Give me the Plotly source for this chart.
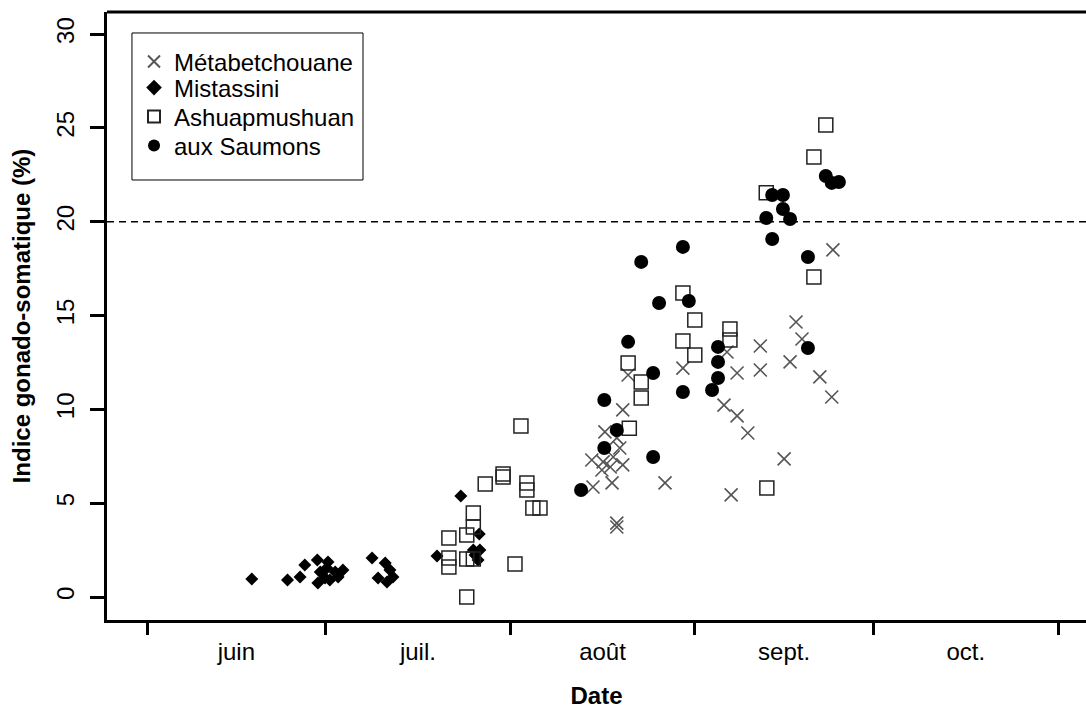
import plotly.graph_objects as go

# Day of year (1 juin = 152) and gonadosomatic index (%)
met_jour = [226.9, 228.4, 228.6, 226.7, 228.9, 229.8, 230.1, 230.3, 230.9, 231.4, 231.9, 231.9,
            230.9, 230.9, 232.8, 239.0, 242.0, 249.4, 251.1, 248.9, 251.1, 252.9, 250.1, 255.0,
            255.0, 259.0, 260.0, 261.0, 262.0, 265.0, 267.0, 267.2]
met_igs = [5.86, 6.77, 7.2, 7.3, 8.8, 6.93, 6.08, 7.46, 8.48, 7.94, 7.04, 9.97,
           3.94, 3.73, 11.83, 6.08, 12.2, 13.06, 11.94, 10.23, 9.65, 8.74, 5.44, 13.38,
           12.1, 7.36, 12.53, 14.66, 13.75, 11.73, 10.66, 18.5]

mis_jour = [169.6, 175.6, 177.7, 178.5, 180.6, 182.4, 181.1, 181.9, 183.6, 184.9, 180.7, 182.7,
            184.1, 182.2, 189.8, 192.0, 192.8, 193.3, 190.8, 192.3, 200.7, 204.7, 207.8, 206.8,
            207.9, 207.6, 207.1]
mis_igs = [0.96, 0.91, 1.07, 1.71, 1.97, 1.87, 1.33, 1.01, 1.33, 1.44, 0.75, 0.91,
           1.07, 1.55, 2.08, 1.81, 1.44, 1.07, 1.01, 0.80, 2.19, 5.38, 3.36, 2.51,
           2.51, 1.97, 2.24]

ash_jour = [202.7, 202.7, 202.7, 205.7, 205.7, 206.8, 206.8, 206.8, 205.7, 208.8, 211.8, 211.8,
            213.8, 214.8, 215.8, 215.8, 216.8, 218.0, 232.8, 233.0, 235.0, 235.0, 242.0, 242.0,
            244.0, 244.0, 249.9, 249.9, 256.1, 256.0, 264.0, 266.0, 264.0]
ash_igs = [3.14, 2.08, 1.60, 3.30, 2.03, 2.03, 3.73, 4.48, 0.0, 6.02, 6.56, 6.40,
           1.76, 9.12, 6.08, 5.70, 4.74, 4.74, 12.47, 9.0, 11.46, 10.6, 16.2, 13.65,
           14.77, 12.9, 14.29, 13.7, 5.81, 21.54, 23.45, 25.16, 17.06]

sau_jour = [224.9, 228.8, 228.8, 230.9, 232.8, 235.0, 237.0, 237.0, 238.0, 242.0, 242.0, 243.0,
            246.9, 247.9, 247.9, 247.9, 256.0, 257.0, 257.0, 258.8, 258.8, 260.0, 263.0, 263.0,
            266.0, 267.0, 268.2]
sau_igs = [5.70, 7.94, 10.5, 8.9, 13.6, 17.86, 11.94, 7.46, 15.67, 18.66, 10.93, 15.78,
           11.03, 13.33, 12.53, 11.67, 20.2, 21.43, 19.08, 21.43, 20.68, 20.15, 18.12, 13.27,
           22.44, 22.07, 22.12]

month_starts = [152, 182, 213, 244, 274, 305]
month_mid = [167, 197.5, 228.5, 259, 289.5]
month_labels = ["juin", "juil.", "août", "sept.", "oct."]
y_ticks = [0, 5, 10, 15, 20, 25, 30]
seuil = 20

FONT = "Liberation Sans, Arial, sans-serif"
FS = 24

fig = go.Figure()
fig.add_trace(go.Scatter(x=met_jour, y=met_igs, mode="markers", name="Métabetchouane",
                         legend="legend",
                         marker=dict(symbol="x-thin-open", size=13, color="#555555",
                                     line=dict(color="#555555", width=1.6))))
fig.add_trace(go.Scatter(x=mis_jour, y=mis_igs, mode="markers", name="Mistassini",
                         legend="legend2",
                         marker=dict(symbol="diamond", size=10, color="black",
                                     line=dict(width=0))))
fig.add_trace(go.Scatter(x=ash_jour, y=ash_igs, mode="markers", name="Ashuapmushuan",
                         legend="legend3",
                         marker=dict(symbol="square-open", size=14, color="#222222",
                                     line=dict(color="#222222", width=1.5))))
fig.add_trace(go.Scatter(x=sau_jour, y=sau_igs, mode="markers", name="aux Saumons",
                         legend="legend4",
                         marker=dict(symbol="circle", size=14, color="black",
                                     line=dict(width=0))))

fig.add_shape(type="line", xref="paper", yref="y", x0=0, x1=1, y0=seuil, y1=seuil,
              line=dict(color="black", width=1.5, dash="7px,5px"), layer="below")
fig.add_shape(type="line", xref="paper", yref="paper", x0=0, x1=1, y0=1, y1=1,
              line=dict(color="black", width=3))
fig.add_shape(type="rect", xref="paper", yref="paper", x0=0.0255, x1=0.2615, y0=0.7237, y1=0.9655,
              line=dict(color="black", width=1))


def leg(y):
    return dict(x=0.0276, y=y, xanchor="left", yanchor="middle",
                bgcolor="rgba(0,0,0,0)", borderwidth=0,
                font=dict(family=FONT, size=FS, color="black"),
                itemsizing="constant")


fig.update_layout(
    width=1086, height=709,
    margin=dict(l=107, r=0, t=12, b=89),
    plot_bgcolor="white", paper_bgcolor="white",
    font=dict(family=FONT, size=FS, color="black"),
    showlegend=True,
    legend=leg(0.9178), legend2=leg(0.875), legend3=leg(0.8273), legend4=leg(0.7796),
    xaxis=dict(range=[145.28, 309.7], showgrid=False, zeroline=False,
               showline=True, linecolor="black", linewidth=3,
               tickmode="array", tickvals=month_mid, ticktext=month_labels,
               ticks="outside", ticklen=8, tickcolor="rgba(0,0,0,0)",
               tickfont=dict(family=FONT, size=FS, color="black"),
               minor=dict(tickmode="array", tickvals=month_starts, ticks="outside",
                          ticklen=12, tickwidth=3, tickcolor="black", showgrid=False),
               title=dict(text="<b>Date</b>", font=dict(family=FONT, size=FS, color="black"),
                          standoff=26)),
    yaxis=dict(range=[-1.226, 31.18], showgrid=False, zeroline=False,
               showline=True, linecolor="black", linewidth=3,
               tickmode="array", tickvals=y_ticks, ticktext=[str(v) for v in y_ticks],
               ticks="outside", ticklen=14, tickwidth=3, tickcolor="black", tickangle=-90,
               ticklabelstandoff=6,
               tickfont=dict(family=FONT, size=FS, color="black"),
               title=dict(text="<b>Indice gonado-somatique (%)</b>",
                          font=dict(family=FONT, size=FS, color="black"), standoff=16)),
)

fig.write_html("out.html")
